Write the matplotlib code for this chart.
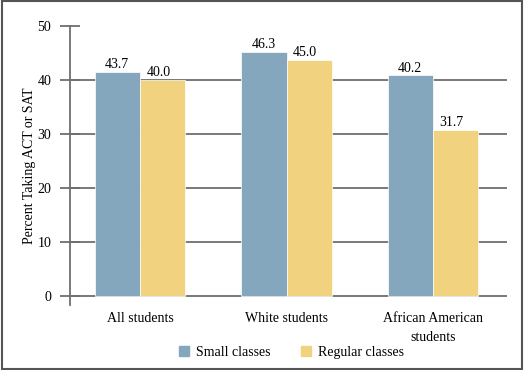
import matplotlib
matplotlib.use('Agg')
import matplotlib.pyplot as plt
from matplotlib.patches import Rectangle, Patch
import numpy as np

plt.rcParams['font.family'] = ['Liberation Serif', 'DejaVu Serif']

groups = ['All students', 'White students', 'African American\nstudents']
small = [41.5, 45.2, 40.9]
regular = [40.1, 43.8, 30.8]
small_labels = ['43.7', '46.3', '40.2']
regular_labels = ['40.0', '45.0', '31.7']
yticks = [0, 10, 20, 30, 40, 50]

blue = '#84A7BE'
yellow = '#F1D27E'
gray = '#6E6E6E'

fig = plt.figure(figsize=(5.25, 3.7), dpi=100)
ax = fig.add_axes([0.1333, 0.1757, 0.8324, 0.754])

x = np.arange(len(groups))
w = 0.31

# gridlines behind bars
for t in yticks[:-1]:
    ax.axhline(t, color=gray, lw=1.3, zorder=1)

b1 = ax.bar(x - w / 2, small, w, color=blue, edgecolor='white', linewidth=0.5, zorder=2)
b2 = ax.bar(x + w / 2, regular, w, color=yellow, edgecolor='white', linewidth=0.5, zorder=2)

fs = 10
for rect, lab in zip(b1, small_labels):
    ax.text(rect.get_x() + rect.get_width() / 2, rect.get_height() + 0.1, lab,
            ha='center', va='bottom', fontsize=fs)
for rect, lab in zip(b2, regular_labels):
    ax.text(rect.get_x() + rect.get_width() / 2 - 0.03, rect.get_height() + 0.1, lab,
            ha='center', va='bottom', fontsize=fs)

ax.set_xlim(-0.478, 2.505)
ax.set_ylim(-1.6, 50)
ax.set_yticks(yticks)
ax.tick_params(axis='y', direction='inout', length=15, width=1.3, color=gray,
               labelsize=fs, pad=6)
ax.set_xticks(x)
ax.set_xticklabels(groups, fontsize=fs, linespacing=1.65)
ax.tick_params(axis='x', length=0, pad=5)

for s in ['top', 'right', 'bottom']:
    ax.spines[s].set_visible(False)
ax.spines['left'].set_color(gray)
ax.spines['left'].set_linewidth(1.3)
ax.spines['left'].set_bounds(-1.6, 50)

ax.set_ylabel('Percent Taking ACT or SAT', fontsize=fs, labelpad=1)

handles = [Patch(color=blue, label='Small classes'), Patch(color=yellow, label='Regular classes')]
fig.legend(handles=handles, loc='center', bbox_to_anchor=(0.555, 0.048), ncol=2,
           frameon=False, fontsize=fs, handlelength=0.7, handleheight=0.7,
           columnspacing=2.2, handletextpad=0.5)

fig.patches.append(Rectangle((0.003, 0.004), 0.992, 0.992, transform=fig.transFigure,
                             fill=False, edgecolor='#555555', linewidth=1.5))

fig.savefig('out.png', dpi=100)
